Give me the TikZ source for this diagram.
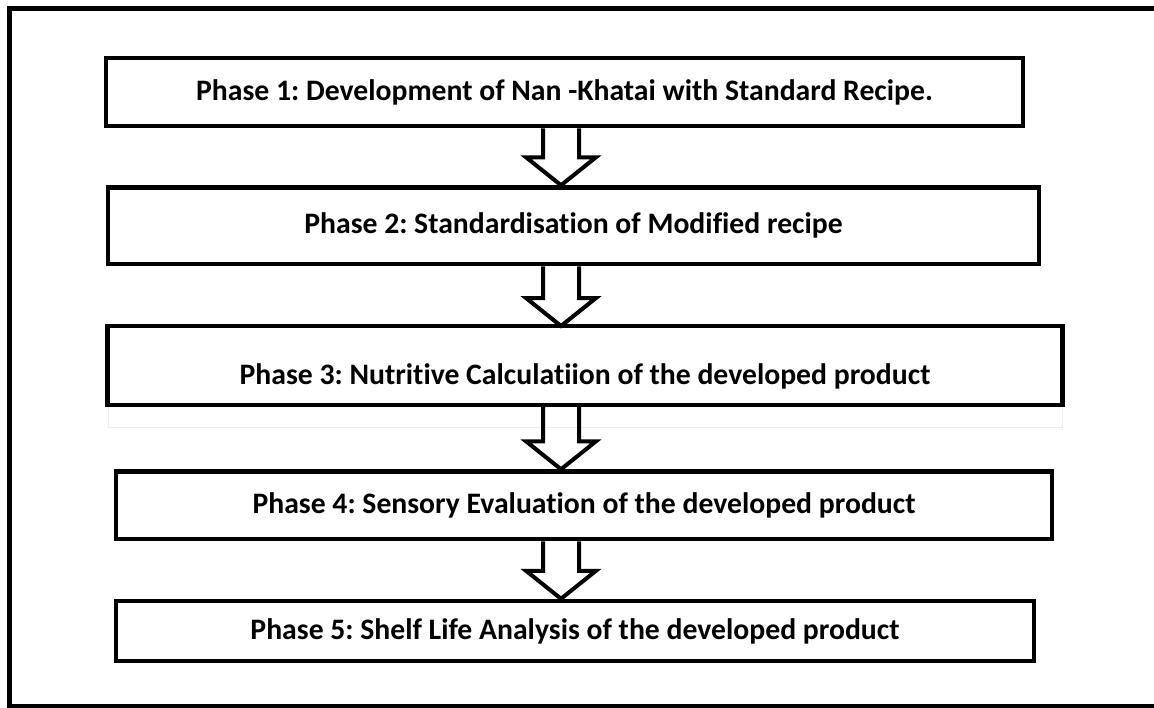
\documentclass[tikz,border=0pt]{standalone}
\usepackage{fontspec}
\setmainfont{Carlito}[Ligatures=NoCommon]
\frenchspacing
\usetikzlibrary{calc}

\newcommand{\phasearrow}[2]{%
  \path (#1 -| shaft) coordinate (atop) (#2 -| shaft) coordinate (atip);
  \draw[blockarrow] ($(atop)+(-18,0)$) -- ($(atip)+(-18,-28)$) -- ($(atip)+(-35,-28)$) -- (atip)
    -- ($(atip)+(35,-28)$) -- ($(atip)+(18,-28)$) -- ($(atop)+(18,0)$);
}

\begin{document}
\begin{tikzpicture}[x=1pt, y=-1pt,
    phase/.style = {draw, line width=4.5pt, rectangle, inner sep=0pt,
                    font=\bfseries\fontsize{29.7}{35}\selectfont},
    blockarrow/.style = {draw, line width=4pt, line join=miter}]
  \useasboundingbox (0,0) rectangle (1154,707);
  \clip (0,0) rectangle (1154,707);
  \draw[line width=5pt] (1170,8.5) -- (9,8.5) -- (9,706) -- (1170,706);

  \coordinate (shaft) at (561,0);

  \node[phase, minimum width=917, minimum height=68] (p1) at (564.5,92)
    {Phase 1: Development of Nan -Khatai with Standard Recipe.};
  \node[phase, minimum width=931, minimum height=76.5] (p2) at (573.5,225.75)
    {Phase 2: Standardisation of Modified recipe};
  \node[phase, draw=gray!15, line width=1pt, minimum width=954, minimum height=100.5] (p3) at (585,376.75)
    {Phase 3: Nutritive Calculatiion of the developed product};
  \draw[line width=4.5pt] (p3.north west) rectangle ($(p3.north east)+(0,79)$);
  \coordinate (p3low) at ($(p3.north)+(0,79)$);
  \node[phase, minimum width=936, minimum height=67.5] (p4) at (584,505.25)
    {Phase 4: Sensory Evaluation of the developed product};
  \node[phase, minimum width=918, minimum height=60] (p5) at (575,631)
    {Phase 5: Shelf Life Analysis of the developed product};

  \phasearrow{p1.south}{p2.north}
  \phasearrow{p2.south}{p3.north}
  \phasearrow{p3low}{p4.north}
  \phasearrow{p4.south}{p5.north}
\end{tikzpicture}
\end{document}
